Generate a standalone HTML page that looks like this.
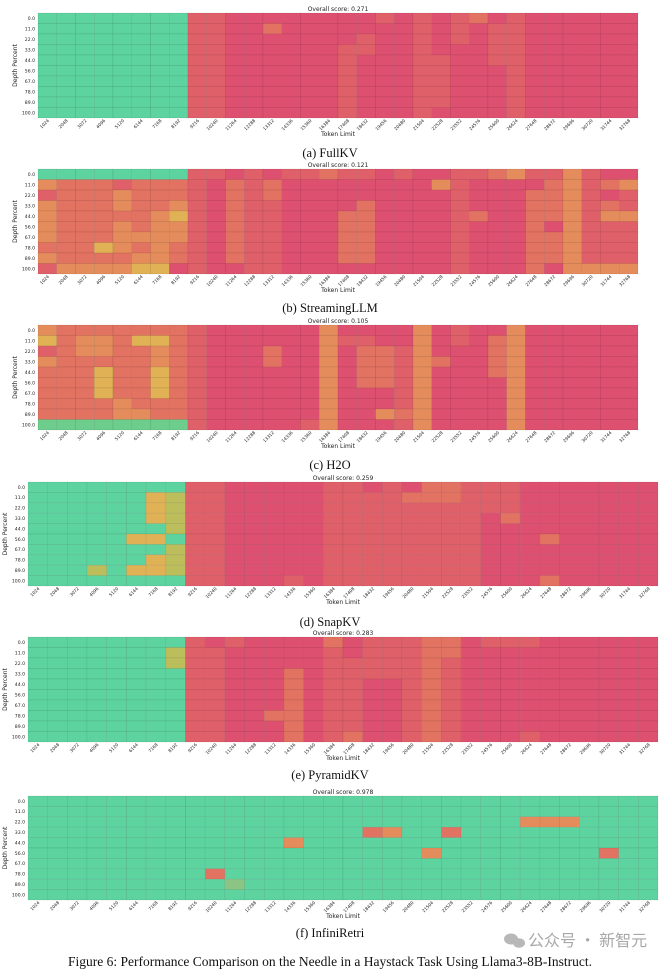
<!DOCTYPE html>
<html><head><meta charset="utf-8">
<style>
html,body{margin:0;padding:0;background:#fff;}
svg{display:block;}
.t{font-family:"DejaVu Sans",sans-serif;fill:#222;}
.cap{font-family:"Liberation Serif",serif;fill:#111;}
</style></head>
<body>
<svg id="s" width="660" height="970" viewBox="0 0 660 970" xmlns="http://www.w3.org/2000/svg"></svg>
<script>
const C={g:"#5dd3a0",G:"#6ccd8c",r:"#dd5070",m:"#e0606a",o:"#e27262",a:"#e48c5c",y:"#e0b255",l:"#bcbe5c",L:"#8cc583"};
function base(){const a=[];for(let i=0;i<10;i++)a.push(new Array(32).fill('r'));return a;}
function set(M,rows,cols,c){for(const r of rows)for(const k of cols)M[r][k]=c;}
function shift(M,start,fill){for(let r=0;r<10;r++){for(let c=start;c<31;c++)M[r][c]=M[r][c+1];M[r][31]=fill;}}
const R=(a,b)=>{const x=[];for(let i=a;i<=b;i++)x.push(i);return x;};
const ALL=R(0,9);
// (a)
const A=base();set(A,ALL,R(0,7),'g');set(A,ALL,[8,9],'m');
set(A,[1],[12],'o');set(A,[1,3,4,7,9],[15],'m');set(A,R(3,9),[17],'m');set(A,[2,3],[18],'m');
set(A,[0],[19],'m');set(A,ALL,[21],'m');set(A,R(4,8),[22],'m');set(A,R(0,2),[23],'m');set(A,[0],[24],'o');
set(A,R(1,4),[25],'m');set(A,ALL,[26],'m');
shift(A,15,'r');
// (b)
const B=base();set(B,[0],R(0,7),'g');set(B,R(1,9),R(0,7),'o');
[[1,0,'a'],[1,4,'m'],[2,0,'m'],[2,4,'a'],[3,0,'a'],[3,4,'a'],[3,7,'a'],[4,0,'a'],[4,6,'a'],[4,7,'y'],[5,0,'a'],[5,4,'a'],[5,6,'a'],[5,7,'a'],[6,0,'a'],[6,4,'a'],[6,5,'a'],[6,6,'a'],[6,7,'a'],[7,3,'y'],[7,4,'a'],[7,6,'a'],[8,0,'a'],[8,5,'a'],[8,6,'a'],[9,0,'m'],[9,1,'a'],[9,2,'a'],[9,3,'a'],[9,4,'a'],[9,5,'y'],[9,6,'y'],[9,7,'r']].forEach(([r,c,v])=>B[r][c]=v);
set(B,ALL,[8],'m');set(B,R(1,8),[10],'o');set(B,ALL,[11],'m');set(B,R(1,2),[12],'o');set(B,R(3,9),[12],'m');
set(B,[0],[9,13,14,17,18,20,23,24,27,28,30],'m');set(B,[0],[15,25],'o');set(B,[0],[26,29],'a');
set(B,R(4,8),[17],'o');set(B,R(3,8),[18],'o');set(B,[1],[22],'a');set(B,R(1,9),[23],'m');set(B,[4],[24],'o');
set(B,R(2,9),[27],'o');set(B,[1,2,3,4,6,7,8],[28],'o');set(B,R(1,9),[29],'a');set(B,R(1,8),[30],'m');
set(B,[1,3],[31],'o');set(B,[4],[31],'a');set(B,R(5,8),[31],'m');set(B,[9],[30,31],'a');
shift(B,16,'m');B[0][31]='r';B[9][31]='a';B[9][30]='a';B[1][31]='a';B[4][31]='a';
// (c)
const Cc=base();set(Cc,R(0,8),R(0,7),'o');set(Cc,[9],R(0,7),'G');
[[0,0,'a'],[1,0,'y'],[1,2,'a'],[1,3,'a'],[1,5,'y'],[1,6,'y'],[2,0,'m'],[3,0,'a'],[3,6,'a'],[4,3,'y'],[4,6,'y'],[5,3,'y'],[5,6,'y'],[6,3,'y'],[6,6,'y'],[7,4,'a'],[8,4,'a'],[8,5,'a'],[2,2,'a'],[2,3,'a'],[2,6,'a']].forEach(([r,c,v])=>Cc[r][c]=v);
set(Cc,ALL,[8],'m');set(Cc,[2,3],[12],'o');set(Cc,[1,9],[15],'m');set(Cc,ALL,[16],'a');set(Cc,[1],[17,18],'m');
set(Cc,R(2,5),[18,19],'o');set(Cc,[8],[19],'a');set(Cc,R(2,9),[20],'m');set(Cc,[8],[20],'o');set(Cc,ALL,[21],'a');
set(Cc,[3],[22],'o');set(Cc,R(0,1),[23],'m');set(Cc,R(1,4),[25],'o');set(Cc,ALL,[26],'a');
shift(Cc,15,'r');set(Cc,[9],[14],'m');
// (d)
const D=base();set(D,ALL,R(0,7),'g');set(D,[1,2,3,5,7,8],[6],'y');set(D,[1,2,3,4,6,7,8],[7],'l');set(D,[5,8],[5],'y');set(D,[8],[3],'l');
set(D,ALL,[8,9],'m');set(D,ALL,[15],'m');set(D,ALL,R(16,22),'m');set(D,[0],[17,19],'r');set(D,[1],[19],'o');set(D,[0,1],[20,21],'o');
set(D,[3],[24],'o');set(D,[5],[26],'o');set(D,[9],[26],'o');set(D,R(0,2),[23,24],'m');set(D,[9],[13],'m');
// (e)
const E=base();set(E,ALL,R(0,7),'g');set(E,[1,2],[7],'l');set(E,ALL,[8,9],'m');set(E,[0],[9],'r');set(E,[0],[10],'m');
set(E,R(3,9),[13],'o');set(E,[7],[12],'o');set(E,ALL,[15],'m');set(E,[0],[15],'o');set(E,ALL,R(16,22),'m');set(E,[0,1],[17],'r');
set(E,R(4,9),[18,19],'r');set(E,ALL,[21],'o');set(E,[0,1],[22],'o');set(E,[0],[23],'r');set(E,[0],[24,25,26],'m');set(E,[9],[26],'m');
set(E,[9],[17],'o');
shift(E,16,'r');
// (f)
const F=[];for(let i=0;i<10;i++)F.push(new Array(32).fill('g'));
set(F,[2],[25,26,27],'a');F[3][17]='o';F[3][18]='a';F[3][21]='o';F[4][13]='a';F[5][20]='a';F[5][29]='o';F[7][9]='o';F[8][10]='L';

const panels=[
 {M:A,x:38,w:600,y:13,h:105,score:"0.271",cap:"(a) FullKV",cy:157},
 {M:B,x:38,w:600,y:169,h:105,score:"0.121",cap:"(b) StreamingLLM",cy:312},
 {M:Cc,x:38,w:600,y:325,h:105,score:"0.105",cap:"(c) H2O",cy:469},
 {M:D,x:28,w:630,y:482,h:104,score:"0.259",cap:"(d) SnapKV",cy:626},
 {M:E,x:28,w:630,y:637,h:105,score:"0.283",cap:"(e) PyramidKV",cy:779},
 {M:F,x:28,w:630,y:796,h:104,score:"0.978",cap:"(f) InfiniRetri",cy:937},
];
const depths=["0.0","11.0","22.0","33.0","44.0","56.0","67.0","78.0","89.0","100.0"];
let s="";
for(const p of panels){
 const cw=p.w/32,rh=p.h/10;
 s+=`<text class="t" x="${p.x+p.w/2}" y="${p.y-2}" font-size="6" text-anchor="middle">Overall score: ${p.score}</text>`;
 for(let r=0;r<10;r++)for(let c=0;c<32;c++){
  s+=`<rect x="${(p.x+c*cw).toFixed(2)}" y="${(p.y+r*rh).toFixed(2)}" width="${cw.toFixed(2)}" height="${rh.toFixed(2)}" fill="${C[p.M[r][c]]}" stroke="rgba(0,0,0,0.13)" stroke-width="0.5"/>`;
 }
 for(let r=0;r<10;r++) s+=`<text class="t" x="${p.x-3}" y="${(p.y+(r+0.5)*rh+1.6).toFixed(1)}" font-size="4.6" text-anchor="end">${depths[r]}</text>`;
 s+=`<text class="t" x="0" y="0" font-size="6" text-anchor="middle" transform="translate(${p.x-21},${p.y+p.h/2}) rotate(-90)">Depth Percent</text>`;
 for(let c=0;c<32;c++){const X=p.x+(c+0.5)*cw+2,Y=p.y+p.h+3;
  s+=`<text class="t" font-size="4.3" text-anchor="end" transform="translate(${X.toFixed(1)},${Y}) rotate(-45)">${1024*(c+1)}</text>`;}
 s+=`<text class="t" x="${p.x+p.w/2}" y="${p.y+p.h+18}" font-size="6" text-anchor="middle">Token Limit</text>`;
 s+=`<text class="cap" x="330" y="${p.cy}" font-size="12.5" text-anchor="middle">${p.cap}</text>`;
}
s+=`<g fill="#b8b8b8"><ellipse cx="511" cy="939" rx="7" ry="5.5"/><ellipse cx="519" cy="943" rx="6" ry="4.8"/></g>`;
s+=`<text x="528" y="946" font-size="16" fill="#a8a8a8" font-family="'Noto Sans CJK SC',sans-serif">公众号 · 新智元</text>`;
s+=`<text class="cap" x="330" y="966" font-size="13.5" text-anchor="middle">Figure 6:  Performance Comparison on the Needle in a Haystack Task Using Llama3-8B-Instruct.</text>`;
document.getElementById('s').innerHTML=s;
</script>
</body></html>
